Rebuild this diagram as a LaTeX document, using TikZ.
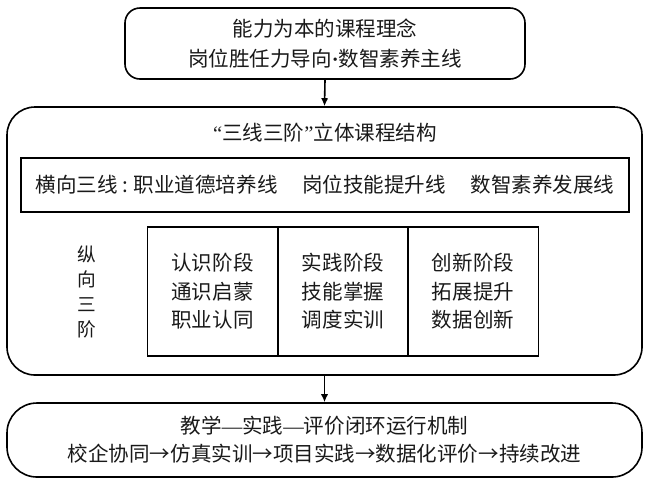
\documentclass[tikz,border=0pt]{standalone}
\usepackage{fontspec}
\newfontfamily\cjk{Noto Sans CJK SC}
\newfontfamily\lat{Liberation Serif}
\usetikzlibrary{arrows.meta}
\begin{document}
\begin{tikzpicture}[x=0.75pt,y=-0.75pt,
  every node/.style={font=\cjk\fontsize{15.4}{22.5}\selectfont, text=black!90},
  box/.style={draw, line width=1.2pt, inner sep=0pt, align=center},
  cell/.style={draw, line width=1pt, inner sep=0pt, align=center,
    minimum width=97.75pt, minimum height=96.75pt,
    font=\cjk\fontsize{15.4}{21.4}\selectfont},
  conn/.style={line width=1.2pt, -{Latex[length=6pt,width=5.5pt]}}]
\useasboundingbox (0,0) rectangle (645,480);
% top box
\node[box, rounded corners=11.25pt, minimum width=300pt, minimum height=53.25pt]
  (top) at (325,43.5) {能力为本的课程理念\\岗位胜任力导向{\lat\bfseries ·}数智素养主线};
% middle structure box
\node[box, rounded corners=21pt, minimum width=476.25pt, minimum height=201pt]
  (mid) at (324.5,241) {};
\node (title) at (325,133) {{\lat “}三线三阶{\lat ”}立体课程结构};
\node[box, minimum width=456pt, minimum height=40.5pt] (lines) at (325,185)
  {横向三线\hspace{0.25em}:\hspace{0.25em}职业道德培养线\hspace{1.2em}岗位技能提升线\hspace{1.2em}数智素养发展线};
\node[align=center, font=\cjk\fontsize{14}{18.75}\selectfont] (vert) at (87,292) {纵\\向\\三\\阶};
\node[cell] (c1) at (212.5,291.5) {认识阶段\\通识启蒙\\职业认同};
\node[cell] (c2) at (343,291.5) {实践阶段\\技能掌握\\调度实训};
\node[cell] (c3) at (473,291.5) {创新阶段\\拓展提升\\数据创新};
% bottom box
\node[box, rounded corners=22.5pt, minimum width=476.25pt, minimum height=55.5pt,
  font=\cjk\fontsize{15.4}{21}\selectfont]
  (bot) at (324.5,440) {教学{\lat —}实践{\lat —}评价闭环运行机制\\校企协同→仿真实训→项目实践→数据化评价→持续改进};
% connectors
\draw[conn] (top.south) -- (mid.north);
\draw[conn] (mid.south) -- (bot.north);
\end{tikzpicture}
\end{document}
